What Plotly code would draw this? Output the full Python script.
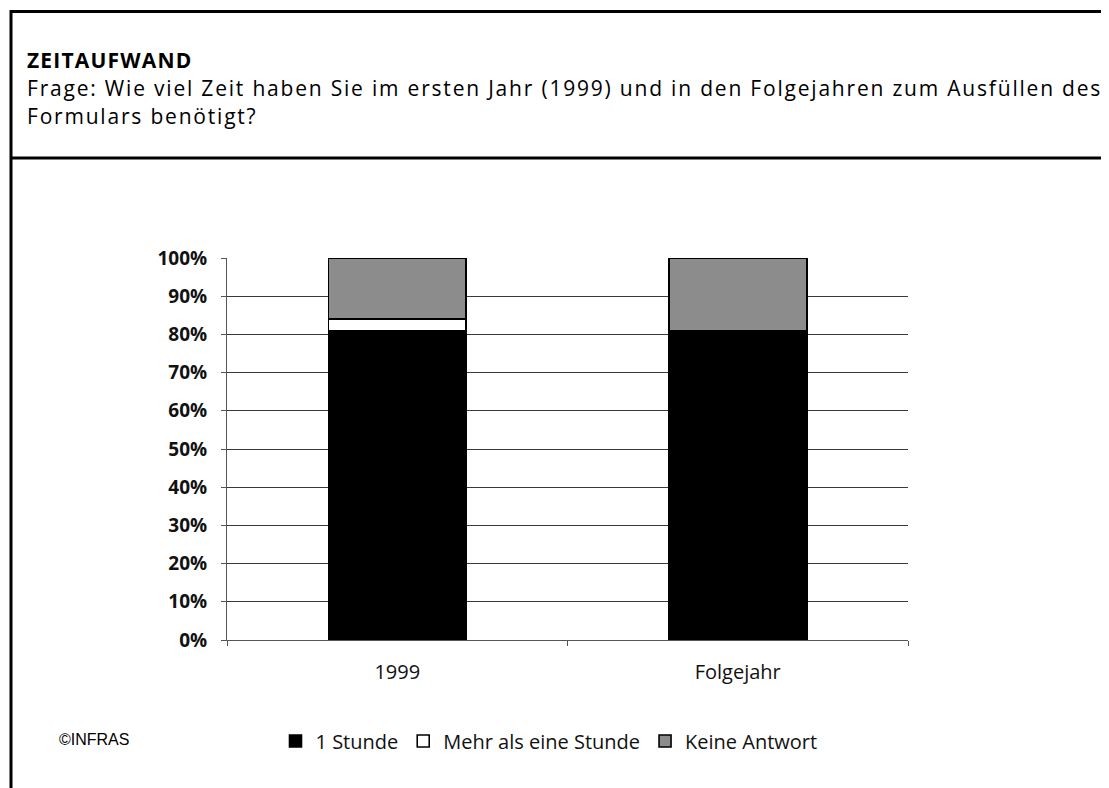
import plotly.graph_objects as go

categories = ["1999", "Folgejahr"]
series_names = ["1 Stunde", "Mehr als eine Stunde", "Keine Antwort"]
eine_stunde = [81, 81]
mehr_als_eine = [3, 0]
keine_antwort = [16, 19]
tick_vals = [0, 10, 20, 30, 40, 50, 60, 70, 80, 90, 100]
tick_text = [f"{v}%" for v in tick_vals]

colors = ["#000000", "#ffffff", "#8c8c8c"]
values = [eine_stunde, mehr_als_eine, keine_antwort]

# page has an 8px body margin; figure is sized so it fills the window
OFF = 8
W, H = 1109 - OFF, 788 - OFF
# plot area in screen pixels
L, R, T, B = 227, 908, 258, 640
pw, ph = R - L, B - T

def px(x):
    return (x - L) / pw

def py(y):
    return (B - y) / ph

FONT = "Open Sans"

fig = go.Figure()
for name, vals, c in zip(series_names, values, colors):
    fig.add_trace(go.Bar(
        x=categories, y=vals, name=name,
        marker=dict(color=c, line=dict(color="#000000", width=1.6)),
    ))

fig.update_layout(
    width=W, height=H,
    margin=dict(l=L - OFF, r=1109 - R, t=T - OFF, b=788 - B, pad=0),
    paper_bgcolor="white", plot_bgcolor="white",
    barmode="stack", bargap=0.595,
    showlegend=True,
    legend=dict(orientation="h", x=px(549), xanchor="center", y=py(741), yanchor="middle",
                font=dict(family=FONT, size=20, color="#111"),
                itemwidth=30, tracegroupgap=0, traceorder="normal"),
    font=dict(family=FONT, color="#111"),
)
fig.update_yaxes(
    range=[0, 100], tickvals=tick_vals, ticktext=tick_text,
    showgrid=True, gridcolor="#3a3a3a", gridwidth=1,
    showline=True, linecolor="#555", linewidth=1,
    ticks="outside", ticklen=5, tickcolor="#555",
    tickfont=dict(family=FONT, size=19, color="#111", weight="bold"),
    ticklabelstandoff=10, zeroline=False, fixedrange=True,
)
fig.update_xaxes(
    showline=True, linecolor="#555", linewidth=1,
    ticks="outside", ticklen=5, tickcolor="#555", tickson="boundaries",
    tickfont=dict(family=FONT, size=20, color="#111"),
    ticklabelstandoff=14,
)

# frame lines
line = dict(color="black", width=3)
fig.add_shape(type="line", xref="paper", yref="paper", x0=px(10), x1=px(1115), y0=py(11.5), y1=py(11.5), line=line)
fig.add_shape(type="line", xref="paper", yref="paper", x0=px(10), x1=px(1115), y0=py(158), y1=py(158), line=line)
fig.add_shape(type="line", xref="paper", yref="paper", x0=px(11), x1=px(11), y0=py(10), y1=py(800), line=line)

fig.add_annotation(xref="paper", yref="paper", x=px(25), y=py(60), xanchor="left", yanchor="middle",
                   text='<span style="letter-spacing:1.2px"><b>ZEITAUFWAND</b></span>', showarrow=False,
                   font=dict(family=FONT, size=21, color="black"))
fig.add_annotation(xref="paper", yref="paper", x=px(25), y=py(88), xanchor="left", yanchor="middle",
                   text='<span style="letter-spacing:1.8px">Frage: Wie viel Zeit haben Sie im ersten Jahr (1999) und in den Folgejahren zum Ausfüllen des</span>',
                   showarrow=False, font=dict(family=FONT, size=21, color="black"))
fig.add_annotation(xref="paper", yref="paper", x=px(25), y=py(116), xanchor="left", yanchor="middle",
                   text='<span style="letter-spacing:1.8px">Formulars benötigt?</span>',
                   showarrow=False, font=dict(family=FONT, size=21, color="black"))
fig.add_annotation(xref="paper", yref="paper", x=px(57), y=py(739), xanchor="left", yanchor="middle",
                   text="©INFRAS", showarrow=False,
                   font=dict(family="Liberation Sans", size=16, color="black"))

fig.write_html("out.html")
